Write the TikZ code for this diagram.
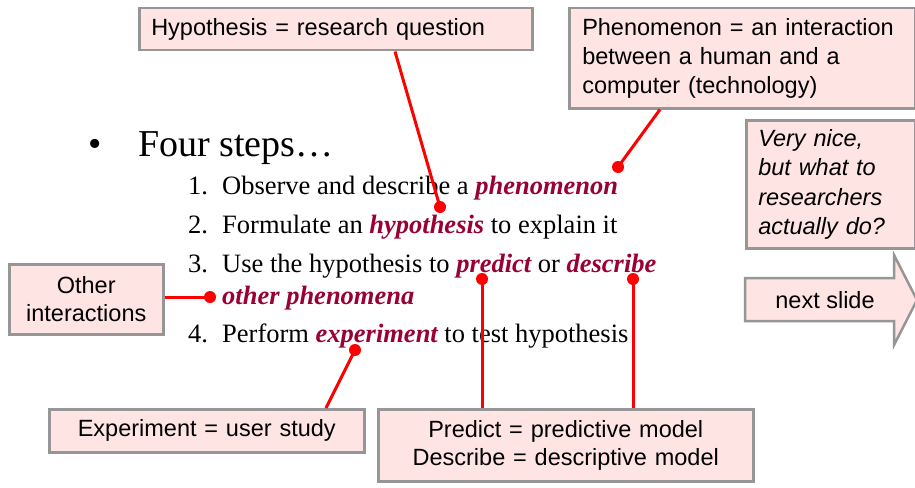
\documentclass[tikz,border=0pt]{standalone}
\usepackage{fontspec}
\setmainfont{Liberation Serif}
\newfontfamily\arialfont{Liberation Sans}
\usetikzlibrary{calc}
\definecolor{boxfill}{RGB}{255,228,228}
\definecolor{boxline}{RGB}{150,150,150}
\definecolor{keyword}{RGB}{153,0,51}
\definecolor{linkred}{RGB}{255,0,0}
\newcommand{\kw}[1]{\textcolor{keyword}{\bfseries\itshape #1}}
\begin{document}
\begin{tikzpicture}[x=1pt,y=-1pt,
  note/.style={draw=boxline, line width=2.5pt, fill=boxfill,
    font=\arialfont\fontsize{23.5}{28.5}\selectfont, anchor=north west, inner sep=0pt},
  body/.style={font=\fontsize{26.5}{30}\selectfont, anchor=base west, inner sep=0pt},
  link/.style={draw=linkred, line width=3pt},
  dotmark/.style={fill=linkred}]
\useasboundingbox (0,0) rectangle (915,487);

% annotation boxes
\node[note, minimum width=393pt, minimum height=42pt, text width=369pt, align=left]
  (hyp) at (138,7) {Hypothesis = research question};
\node[note, minimum width=346pt, minimum height=100pt, text width=320pt, align=left,
  font=\arialfont\fontsize{23.5}{29}\selectfont]
  (phen) at (568,7) {Phenomenon = an interaction\\between a human and a\\computer (technology)};
\node[note, minimum width=169pt, minimum height=128pt, text width=145pt, align=left,
  font=\arialfont\itshape\fontsize{23.5}{29.5}\selectfont]
  (nice) at (745,119) {Very nice,\\but what to\\researchers\\actually do?};
\node[note, minimum width=154pt, minimum height=70pt, text width=150pt, align=center]
  (other) at (8,263) {Other\\interactions};
\node[note, minimum width=315pt, minimum height=43pt, text width=300pt, align=center]
  (exp) at (48,408) {Experiment = user study};
\node[note, minimum width=375pt, minimum height=72pt, text width=360pt, align=center]
  (pred) at (377,408) {Predict = predictive model\\Describe = descriptive model};

% next-slide arrow
\draw[draw=boxline, line width=2.5pt, fill=boxfill, line join=miter]
  (745,278) -- (894,278) -- (894,255) -- (917,300) -- (894,345) -- (894,321) -- (745,321) -- cycle;
\node[font=\arialfont\fontsize{23.5}{28.5}\selectfont, inner sep=0pt] (next) at (825,300) {next slide};

% slide text
\node[font=\fontsize{38}{40}\selectfont, anchor=base west, inner sep=0pt] (bullet) at (88,156) {•};
\node[font=\fontsize{38}{40}\selectfont, anchor=base west, inner sep=0pt] (title) at (138,156) {Four steps…};
\node[body] (n1) at (188,194) {1.};
\node[body] (t1) at (222,194) {Observe and describe a \kw{phenomenon}};
\node[body] (n2) at (188,233) {2.};
\node[body] (t2) at (222,233) {Formulate an \kw{hypothesis} to explain it};
\node[body] (n3) at (188,272) {3.};
\node[body] (t3) at (222,272) {Use the hypothesis to \kw{predict} or \kw{describe}};
\node[body] (t3b) at (222,304) {\kw{other phenomena}};
\node[body] (n4) at (188,342) {4.};
\node[body] (t4) at (222,342) {Perform \kw{experiment} to test hypothesis};

% connector end points
\coordinate (dhyp) at (440,207);
\coordinate (dphen) at (618,167);
\coordinate (doth) at (210,297);
\coordinate (dexp) at (355,350);
\coordinate (dpred) at (482,279);
\coordinate (ddesc) at (633,279);

% connectors
\draw[link] ($(hyp.south west)+(257,0)$) -- (dhyp);
\draw[link] ($(phen.south west)+(92,0)$) -- (dphen);
\draw[link] (other.east |- doth) -- (doth);
\draw[link] ($(exp.north west)+(278,0)$) -- (dexp);
\draw[link] (dpred |- pred.north) -- (dpred);
\draw[link] (ddesc |- pred.north) -- (ddesc);

\foreach \d in {dhyp,dphen,doth,dexp,dpred,ddesc}
  \fill[dotmark] (\d) circle[radius=6pt];
\end{tikzpicture}
\end{document}
